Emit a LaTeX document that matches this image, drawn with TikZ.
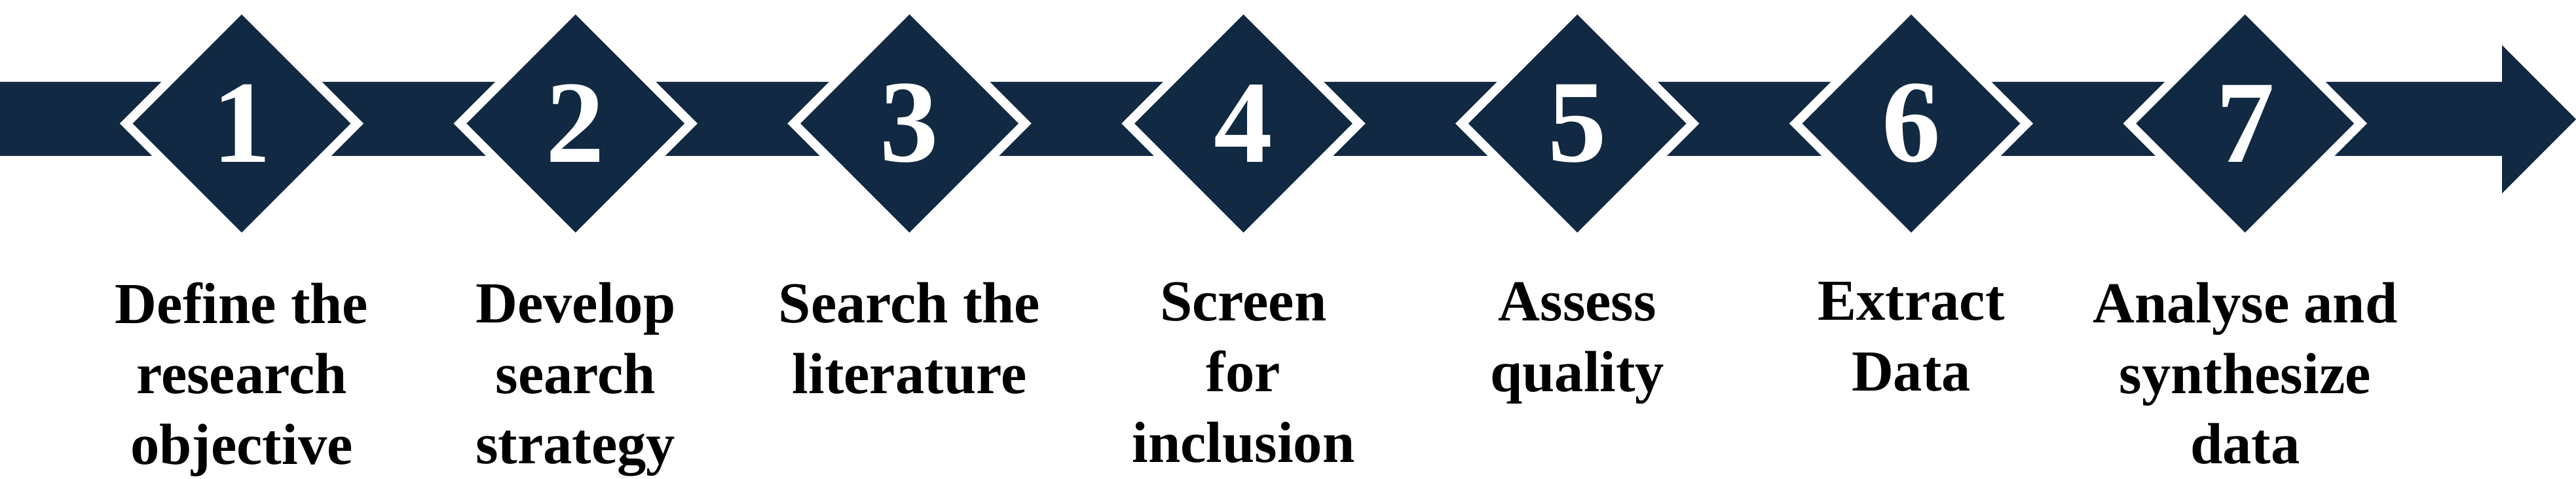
\documentclass[tikz,border=0pt]{standalone}
\usepackage{fontspec}
\setmainfont{Liberation Serif}
\usetikzlibrary{shapes.geometric}
\definecolor{stepnavy}{RGB}{17,41,66}
\tikzset{
  stepdiamond/.style={diamond, aspect=1, minimum width=3.585cm, minimum height=3.585cm,
    inner sep=0pt, fill=stepnavy, draw=white, line width=0.138cm, text=white,
    font=\fontsize{51}{51}\selectfont\bfseries},
  steplabel/.style={anchor=north, inner sep=0pt, align=center,
    font=\fontsize{25.2}{30.7}\selectfont\bfseries}
}

\begin{document}
\begin{tikzpicture}
\useasboundingbox (0,0) rectangle (39.33,7.31);
% Draw the arrow body and head
\coordinate (tip) at (39.33,5.49);
\fill[stepnavy] (0,6.06) -- (38.20,6.06) -- (38.20,6.62) -- (tip)
  -- (38.20,4.36) -- (38.20,4.93) -- (0,4.93) -- cycle;
% Draw the numbered steps and their labels
\foreach \i/\txt in {1/{Define the\\research\\objective},
                     2/{Develop\\search\\strategy},
                     3/{Search the\\literature},
                     4/{Screen\\for\\inclusion},
                     5/{Assess\\quality},
                     6/{Extract\\Data},
                     7/{Analyse and\\synthesize\\data}}{
  \pgfmathsetmacro{\xpos}{3.69+5.098*(\i-1)}
  \node[stepdiamond] (d\i) at (\xpos,5.425) {\i};
  \node[steplabel] (l\i) at (\xpos,3.01) {\txt};
}
\end{tikzpicture}
\end{document}
